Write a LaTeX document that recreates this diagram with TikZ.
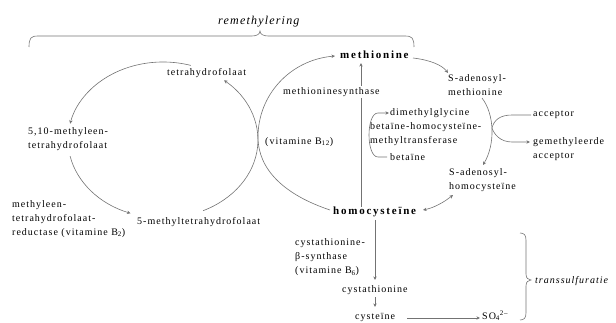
\documentclass[tikz,border=0pt]{standalone}
\usepackage{fontspec}
\setmainfont{Liberation Serif}[LetterSpace=10]
\newfontfamily\boldsp{Liberation Serif}[LetterSpace=16]
\usetikzlibrary{arrows.meta,calc}
\begin{document}
\begin{tikzpicture}[x=1pt,y=-1pt,
  lbl/.style={inner sep=0pt,align=left,anchor=west,text=black,font=\fontsize{10}{14}\selectfont},
  main/.style={lbl,font=\fontsize{11}{14}\boldsp\bfseries},
  ital/.style={lbl,font=\fontsize{10}{14}\itshape},
  ln/.style={draw=black!55,line width=0.6pt},
  arr/.style={ln,-{Stealth[length=3.6pt,width=3.4pt]}},
  darr/.style={ln,{Stealth[length=3.6pt,width=3.4pt]}-{Stealth[length=3.6pt,width=3.4pt]}}]
\useasboundingbox (0,0) rectangle (616,323);

% labels
\node[ital,font=\fontsize{12}{14}\itshape] (rem) at (218,22) {remethylering};
\node[main] (met) at (340,55) {methionine};
\node[lbl] (thf) at (167,73) {tetrahydrofolaat};
\node[lbl] (sam) at (448,85) {S-adenosyl-\\methionine};
\node[lbl] (b12) at (265,142) {(vitamine B\textsubscript{12})};
\node[lbl] (dmg) at (390,113) {dimethylglycine};
\node[lbl] (bhmt) at (370,134.5) {betaïne-homocysteïne-\\methyltransferase};
\node[lbl] (bet) at (390,157) {betaïne};
\node[lbl] (acc) at (533,115) {acceptor};
\node[lbl] (macc) at (533,149.5) {gemethyleerde\\acceptor};
\node[lbl] (sah) at (449,180) {S-adenosyl-\\homocysteïne};
\node[lbl] (m510) at (28,139) {5,10-methyleen-\\tetrahydrofolaat};
\node[lbl] (mthfr) at (12,219) {methyleen-\\tetrahydrofolaat-\\reductase (vitamine B\textsubscript{2})};
\node[lbl] (m5) at (137,222) {5-methyltetrahydrofolaat};
\node[main] (hcy) at (333,212) {homocysteïne};
\node[lbl] (cbs) at (295,257.5) {cystathionine-\\β-synthase\\(vitamine B\textsubscript{6})};
\node[lbl] (cth) at (342,290) {cystathionine};
\node[lbl] (cys) at (355,317) {cysteïne};
\node[lbl] (so4) at (482,316) {SO\textsubscript{4}\textsuperscript{2–}};
\node[ital] (trs) at (535,281) {transsulfuratie};

% named points
\coordinate (metL) at (335,56);
\coordinate (metR) at (413,58);
\coordinate (samT) at (448,73);
\coordinate (samB) at (482,98);
\coordinate (sahT) at (483,165);
\coordinate (sahB) at (453,195);
\coordinate (hcyL) at (330,210);
\coordinate (hcyR) at (423,210);
\coordinate (bran) at (492,128);

% left cycle
\draw[arr] (203.1,210.7) arc[start angle=65,end angle=-50,x radius=95,y radius=78];
\draw[arr] (190.8,65.4) arc[start angle=-73,end angle=-168,x radius=95,y radius=78];
\draw[arr] (70.1,156.2) arc[start angle=-192,end angle=-250,x radius=95,y radius=78];

% right cycle
\draw[arr] (hcyL) .. controls (285,195) and (258,170) .. (258,137)
  .. controls (258,95) and (290,60) .. (metL);
\draw[arr] (hcy.north -| 361,0) -- (361,63);
\draw[arr] (metR) .. controls (430,60) and (442,65) .. (samT);
\draw[arr] (samB) .. controls (495,115) and (495,145) .. (sahT);
\draw[darr] (sahB) .. controls (443,203) and (433,208) .. (hcyR);
\draw[arr] ($(acc.west)+(-2,0)$) -- (512,115) .. controls (500,115) and (494,120) .. (bran)
  .. controls (494,134) and (500,142) .. (512,142) -- (530,142);
\draw[arr] ($(bet.west)+(-3,0)$) -- (378,157) .. controls (366,157) and (366,113) .. (378,113) -- ($(dmg.west)+(-1,0)$);

% transsulfuration
\draw[arr] (375,220) -- (375,280);
\draw[arr] (375,297) -- (375,307);
\draw[arr] (cys.east |- 0,318) ++(12,0) -- (480,318);

% braces
\draw[ln] (29,47) .. controls (29,38) and (31,36) .. (38,36) -- (252,36)
  .. controls (257,36) and (260,34) .. (260,31)
  .. controls (260,34) and (263,36) .. (268,36) -- (405,36)
  .. controls (412,36) and (414,38) .. (414,47);
\draw[ln] (520,233) .. controls (524,233) and (526,235) .. (526,240) -- (526,274)
  .. controls (526,278) and (528,280) .. (531,280)
  .. controls (528,280) and (526,282) .. (526,286) -- (526,313)
  .. controls (526,318) and (524,320) .. (520,320);

\node[lbl,fill=white,inner sep=1pt] (ms) at (282,92) {methioninesynthase};
\end{tikzpicture}
\end{document}
